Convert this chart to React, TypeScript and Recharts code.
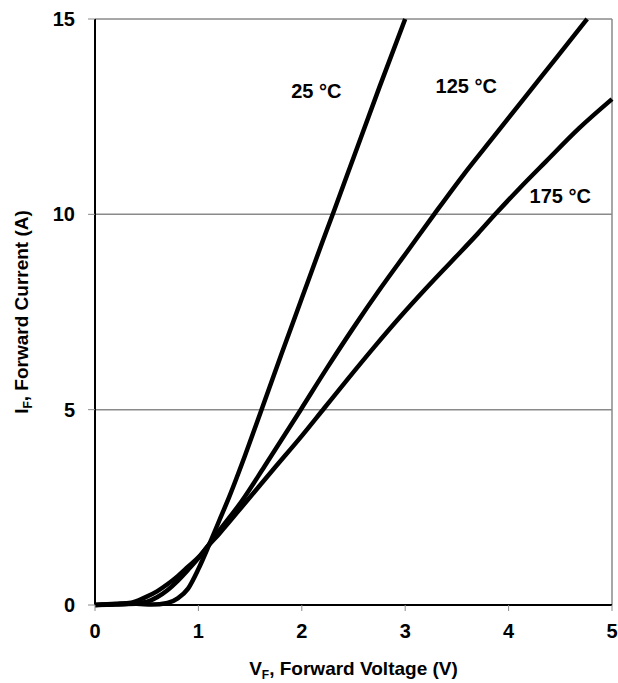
import { CartesianGrid, Line, LineChart, ReferenceDot, ReferenceLine, XAxis, YAxis } from "recharts"

const FONT = "'Liberation Sans', Arial, Helvetica, sans-serif"

// forward voltage (V) / forward current (A)
const v25 = [0, 0.2, 0.4, 0.55, 0.7, 0.8, 0.9, 1.0, 1.1, 1.2, 1.3, 1.45, 1.6, 1.8, 2.0, 2.2, 2.32, 2.5, 2.75, 3.0]
const i25 = [0, 0.01, 0.03, 0.01, 0.05, 0.17, 0.42, 0.92, 1.52, 2.15, 2.78, 3.82, 4.92, 6.4, 7.85, 9.3, 10.15, 11.45, 13.25, 15.0]

const v125 = [0, 0.2, 0.35, 0.5, 0.6, 0.7, 0.8, 0.9, 1.0, 1.08, 1.2, 1.42, 1.64, 1.99, 2.24, 2.5, 2.76, 3.02, 3.28, 3.56, 3.86, 4.16, 4.46, 4.76]
const i125 = [0, 0.02, 0.04, 0.08, 0.2, 0.38, 0.62, 0.9, 1.2, 1.47, 1.9, 2.66, 3.55, 5.0, 6.05, 7.1, 8.1, 9.05, 10.0, 11.0, 12.0, 13.0, 14.0, 15.0]

const v175 = [0, 0.2, 0.35, 0.48, 0.6, 0.7, 0.8, 0.9, 1.0, 1.08, 1.2, 1.48, 1.75, 2.0, 2.22, 2.45, 2.7, 2.95, 3.2, 3.45, 3.7, 3.87, 4.1, 4.36, 4.68, 5.0]
const i175 = [0, 0.03, 0.06, 0.19, 0.35, 0.53, 0.74, 0.98, 1.22, 1.47, 1.82, 2.7, 3.55, 4.33, 5.05, 5.8, 6.6, 7.37, 8.1, 8.8, 9.5, 10.0, 10.65, 11.35, 12.2, 12.95]

const xTicks = [0, 1, 2, 3, 4, 5]
const yTicks = [0, 5, 10, 15]

const curveLabels = [
  { text: "25 °C", v: 2.14, i: 13.15 },
  { text: "125 °C", v: 3.59, i: 13.3 },
  { text: "175 °C", v: 4.5, i: 10.47 },
]

const toRows = (vs: number[], is: number[]) => vs.map((v, k) => ({ v, i: is[k] }))

const series = [
  { name: "25 °C", data: toRows(v25, i25) },
  { name: "125 °C", data: toRows(v125, i125) },
  { name: "175 °C", data: toRows(v175, i175) },
]

const titleStyle = { fontFamily: FONT, fontWeight: "bold", fontSize: 19, fill: "#000" }

function XTitle({ viewBox }: any) {
  const { x, y, width } = viewBox
  return (
    <text x={x + width / 2} y={y + 70} textAnchor="middle" {...titleStyle}>
      V<tspan fontSize={12} dy={4}>F</tspan>
      <tspan dy={-4}>, Forward Voltage (V)</tspan>
    </text>
  )
}

function YTitle({ viewBox }: any) {
  const { y, height } = viewBox
  const cx = 28
  const cy = y + height / 2
  return (
    <text x={cx} y={cy} textAnchor="middle" transform={`rotate(-90, ${cx}, ${cy})`} {...titleStyle}>
      I<tspan fontSize={12} dy={4}>F</tspan>
      <tspan dy={-4}>, Forward Current (A)</tspan>
    </text>
  )
}

const tickStyle = { fill: "#000", fontSize: 20, fontWeight: "bold", fontFamily: FONT }

export default function App() {
  return (
    <div style={{ position: "absolute", left: 0, top: 0, background: "#fff" }}>
      <LineChart width={618} height={683} margin={{ top: 19, right: 6, bottom: 0, left: 0 }}>
        <CartesianGrid vertical={false} horizontalValues={[5, 10, 15]} stroke="#8a8a8a" strokeWidth={1.5} />
        <ReferenceLine x={5} stroke="#8a8a8a" strokeWidth={1.5} />
        <XAxis
          type="number"
          dataKey="v"
          domain={[0, 5]}
          ticks={xTicks}
          height={78}
          tick={tickStyle}
          tickSize={6}
          tickMargin={13}
          axisLine={{ stroke: "#000", strokeWidth: 2 }}
          tickLine={{ stroke: "#8a8a8a" }}
          label={<XTitle />}
        />
        <YAxis
          type="number"
          domain={[0, 15]}
          ticks={yTicks}
          width={95}
          tick={tickStyle}
          tickSize={7}
          tickMargin={13}
          axisLine={{ stroke: "#000", strokeWidth: 2 }}
          tickLine={{ stroke: "#8a8a8a" }}
          label={<YTitle />}
        />
        {series.map((s) => (
          <Line
            key={s.name}
            name={s.name}
            data={s.data}
            dataKey="i"
            type="monotone"
            stroke="#000"
            strokeWidth={4.5}
            dot={false}
            isAnimationActive={false}
          />
        ))}
        {curveLabels.map((c) => (
          <ReferenceDot
            key={c.text}
            x={c.v}
            y={c.i}
            r={0}
            fill="none"
            stroke="none"
            label={{ value: c.text, position: "center", fill: "#000", fontSize: 20, fontWeight: "bold", fontFamily: FONT }}
          />
        ))}
      </LineChart>
    </div>
  )
}
